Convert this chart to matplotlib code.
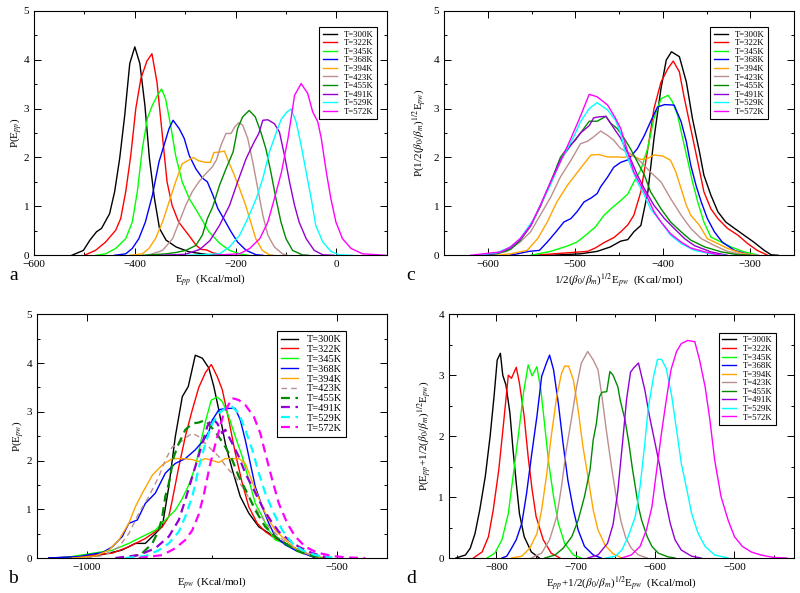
import matplotlib
matplotlib.use('Agg')
from matplotlib import pyplot as plt
from matplotlib.ticker import MultipleLocator

plt.rcParams['font.family'] = ['Liberation Serif', 'DejaVu Serif']
plt.rcParams['mathtext.fontset'] = 'stix'

temps = ['300', '322', '345', '368', '394', '423', '455', '491', '529', '572']
colors = ['#000000', '#ff0000', '#00ff00', '#0000ff', '#ffa500',
          '#bc8f8f', '#008b00', '#9400d3', '#00ffff', '#ff00ff']

# ---- panel a: E_pp ----
a300_x = [-525, -502, -489, -476, -466, -450, -440, -430, -420, -410, -400, -390, -380, -371, -361, -351, -338, -318, -292, -252, -220]
a300_y = [0, 0.1, 0.31, 0.48, 0.55, 0.85, 1.3, 1.98, 2.86, 3.92, 4.26, 3.92, 3.07, 1.98, 1.16, 0.55, 0.31, 0.17, 0.07, 0.01, 0]
a322_x = [-500, -478, -458, -438, -428, -418, -408, -398, -388, -376, -366, -356, -346, -336, -326, -313, -293, -278, -268, -258, -245, -220]
a322_y = [0, 0.1, 0.27, 0.51, 0.75, 1.3, 2.04, 3.0, 3.61, 3.97, 4.12, 3.54, 2.52, 1.5, 1.02, 0.68, 0.41, 0.2, 0.12, 0.11, 0.05, 0]
a345_x = [-477, -458, -438, -418, -405, -395, -385, -375, -365, -355, -347, -339, -329, -319, -306, -292, -272, -253, -232, -212, -192, -175]
a345_y = [0, 0.03, 0.14, 0.34, 0.68, 1.3, 2.18, 2.8, 3.07, 3.27, 3.4, 3.2, 2.66, 2.04, 1.5, 1.16, 0.82, 0.48, 0.25, 0.1, 0.03, 0]
a368_x = [-440, -418, -405, -392, -379, -365, -352, -342, -332, -324, -312, -302, -292, -279, -266, -256, -245, -235, -222, -209, -196, -179, -159, -146]
a368_y = [0, 0.03, 0.14, 0.34, 0.68, 1.23, 1.91, 2.25, 2.59, 2.76, 2.59, 2.39, 2.04, 1.77, 1.58, 1.5, 1.23, 0.95, 0.72, 0.48, 0.27, 0.1, 0.01, 0]
a394_x = [-410, -385, -372, -359, -345, -332, -319, -306, -294, -284, -273, -260, -250, -243, -232, -222, -214, -205, -192, -180, -170, -160, -147, -133, -125]
a394_y = [0, 0.03, 0.14, 0.34, 0.68, 1.09, 1.5, 1.87, 1.94, 2.0, 1.93, 1.9, 1.9, 2.1, 2.11, 2.13, 1.91, 1.7, 1.36, 1.02, 0.68, 0.34, 0.1, 0.01, 0]
a423_x = [-375, -350, -345, -325, -312, -299, -286, -273, -259, -246, -238, -229, -219, -209, -202, -194, -186, -176, -166, -156, -146, -136, -123, -107, -97]
a423_y = [0, 0.08, 0.1, 0.34, 0.68, 1.02, 1.3, 1.5, 1.67, 1.81, 1.95, 2.25, 2.49, 2.49, 2.62, 2.71, 2.66, 2.39, 1.91, 1.36, 0.82, 0.41, 0.17, 0.03, 0]
a455_x = [-384, -337, -317, -299, -279, -266, -256, -245, -232, -219, -205, -196, -186, -173, -161, -150, -140, -130, -120, -110, -100, -87, -68, -55]
a455_y = [0, 0.03, 0.06, 0.1, 0.2, 0.41, 0.75, 1.0, 1.43, 1.77, 2.11, 2.59, 2.83, 2.96, 2.83, 2.52, 2.18, 1.7, 1.16, 0.68, 0.34, 0.1, 0.01, 0]
a491_x = [-350, -300, -271, -251, -232, -212, -196, -179, -163, -154, -146, -136, -123, -113, -103, -93, -83, -74, -60, -44, -27, -5]
a491_y = [0, 0.02, 0.12, 0.3, 0.61, 1.02, 1.5, 1.98, 2.32, 2.49, 2.76, 2.77, 2.69, 2.52, 2.04, 1.5, 1.02, 0.68, 0.34, 0.1, 0.01, 0]
a529_x = [-297, -232, -212, -192, -176, -159, -146, -133, -119, -109, -98, -90, -80, -70, -60, -50, -41, -27, -11, 5, 32]
a529_y = [0, 0.03, 0.17, 0.41, 0.75, 1.16, 1.57, 2.11, 2.52, 2.79, 2.93, 2.99, 2.73, 2.25, 1.7, 1.16, 0.61, 0.27, 0.08, 0.01, 0]
a572_x = [-245, -192, -172, -152, -136, -123, -109, -96, -83, -70, -57, -47, -37, -30, -20, -11, -1, 12, 29, 52, 98]
a572_y = [0, 0.03, 0.14, 0.34, 0.68, 1.16, 1.7, 2.39, 3.27, 3.51, 3.31, 2.93, 2.73, 2.39, 1.7, 1.16, 0.68, 0.34, 0.14, 0.03, 0]

# ---- panel c: 1/2(b0/bm)^1/2 E_pw ----
c300_x = [-528, -494, -475, -460, -448, -440, -433, -425, -417, -410, -402, -396, -390, -381, -373, -366, -358, -353, -345, -337, -328, -318, -307, -296, -284, -276, -268]
c300_y = [0, 0.03, 0.08, 0.17, 0.29, 0.32, 0.48, 0.61, 1.3, 2.39, 3.41, 3.99, 4.16, 4.06, 3.54, 2.79, 2.11, 1.64, 1.23, 0.89, 0.68, 0.55, 0.41, 0.27, 0.1, 0.01, 0]
c322_x = [-547, -509, -486, -477, -467, -456, -448, -440, -433, -425, -417, -410, -402, -394, -388, -381, -376, -368, -360, -353, -345, -337, -326, -314, -303, -292, -280]
c322_y = [0, 0.05, 0.08, 0.15, 0.26, 0.36, 0.48, 0.62, 0.82, 1.3, 2.18, 3.0, 3.54, 3.82, 3.97, 3.75, 3.27, 2.59, 1.91, 1.3, 0.95, 0.75, 0.55, 0.41, 0.24, 0.1, 0]
c345_x = [-551, -528, -509, -498, -486, -477, -467, -458, -448, -440, -433, -425, -417, -410, -402, -394, -389, -383, -378, -372, -366, -360, -353, -345, -333, -322, -307, -292]
c345_y = [0, 0.08, 0.19, 0.27, 0.44, 0.58, 0.82, 0.97, 1.12, 1.25, 1.5, 1.75, 2.2, 2.8, 3.2, 3.27, 3.14, 2.86, 2.45, 1.98, 1.5, 1.09, 0.68, 0.37, 0.27, 0.17, 0.07, 0.01]
c368_x = [-575, -566, -553, -541, -532, -522, -513, -505, -498, -490, -482, -475, -471, -463, -456, -448, -440, -437, -429, -421, -414, -406, -398, -387, -379, -373, -368, -362, -356, -349, -341, -332, -318, -299]
c368_y = [0, 0.03, 0.08, 0.1, 0.27, 0.48, 0.68, 0.75, 0.89, 1.09, 1.17, 1.26, 1.4, 1.6, 1.8, 1.9, 1.95, 2.01, 2.18, 2.45, 2.73, 3.03, 3.08, 3.07, 2.73, 2.32, 1.84, 1.43, 1.09, 0.75, 0.48, 0.27, 0.1, 0]
c394_x = [-590, -574, -555, -543, -532, -521, -509, -500, -490, -482, -473, -463, -452, -444, -437, -425, -417, -410, -400, -391, -385, -379, -373, -368, -358, -349, -337, -326, -311, -296]
c394_y = [0, 0.03, 0.1, 0.34, 0.68, 1.09, 1.43, 1.64, 1.87, 2.05, 2.06, 2.01, 2.01, 2.0, 2.05, 1.96, 1.98, 2.05, 2.03, 1.94, 1.7, 1.36, 1.02, 0.82, 0.61, 0.34, 0.24, 0.14, 0.05, 0]
c423_x = [-600, -578, -563, -551, -540, -528, -517, -505, -494, -486, -479, -471, -463, -456, -448, -437, -425, -414, -402, -391, -379, -368, -356, -341, -326, -307, -290]
c423_y = [0, 0.08, 0.27, 0.48, 0.82, 1.19, 1.6, 1.94, 2.28, 2.33, 2.42, 2.54, 2.45, 2.35, 2.18, 2.08, 1.91, 1.7, 1.5, 1.16, 0.82, 0.55, 0.34, 0.2, 0.08, 0.01, 0]
c455_x = [-610, -590, -574, -563, -551, -540, -528, -517, -509, -500, -494, -484, -475, -465, -459, -452, -444, -437, -429, -421, -414, -402, -391, -379, -368, -352, -333, -314, -300]
c455_y = [0, 0.03, 0.12, 0.3, 0.6, 1.0, 1.5, 2.0, 2.2, 2.35, 2.5, 2.74, 2.74, 2.84, 2.69, 2.59, 2.39, 2.18, 1.91, 1.64, 1.3, 0.95, 0.68, 0.48, 0.31, 0.17, 0.07, 0.01, 0]
c491_x = [-612, -590, -574, -563, -551, -540, -528, -517, -505, -494, -484, -479, -473, -465, -456, -448, -437, -429, -421, -410, -398, -387, -375, -364, -345, -326]
c491_y = [0, 0.04, 0.15, 0.32, 0.6, 1.0, 1.5, 1.95, 2.25, 2.5, 2.65, 2.81, 2.83, 2.84, 2.6, 2.39, 1.98, 1.64, 1.36, 1.02, 0.75, 0.55, 0.34, 0.2, 0.07, 0]
c529_x = [-615, -590, -574, -563, -547, -540, -528, -517, -501, -494, -484, -475, -463, -454, -448, -444, -437, -429, -421, -414, -402, -391, -379, -364, -345, -330]
c529_y = [0, 0.05, 0.17, 0.34, 0.75, 1.02, 1.45, 1.91, 2.45, 2.73, 3.0, 3.12, 2.97, 2.76, 2.49, 2.18, 1.84, 1.5, 1.23, 0.95, 0.68, 0.41, 0.24, 0.1, 0.03, 0]
c572_x = [-620, -585, -574, -563, -551, -540, -528, -517, -505, -496, -484, -475, -463, -454, -448, -440, -433, -425, -417, -410, -402, -391, -379, -368, -352, -333]
c572_y = [0, 0.07, 0.17, 0.34, 0.61, 1.02, 1.5, 1.91, 2.39, 2.76, 3.29, 3.24, 3.07, 2.8, 2.59, 2.11, 1.7, 1.43, 1.16, 0.89, 0.68, 0.44, 0.27, 0.15, 0.07, 0]

# ---- panel b: E_pw ----
b300_x = [-1076, -983, -930, -903, -883, -863, -849, -836, -823, -809, -797, -783, -769, -756, -746, -736, -723, -709, -693, -676, -656, -636, -616, -596, -576, -556, -543]
b300_y = [0, 0.04, 0.16, 0.3, 0.3, 0.5, 0.65, 1.46, 2.49, 3.31, 3.52, 4.16, 4.1, 3.9, 3.52, 3.04, 2.35, 1.81, 1.26, 0.92, 0.64, 0.51, 0.37, 0.27, 0.16, 0.06, 0]
b322_x = [-1049, -949, -916, -883, -849, -836, -829, -816, -803, -789, -776, -763, -751, -739, -729, -716, -703, -689, -676, -659, -643, -623, -603, -583, -563, -543, -523]
b322_y = [0, 0.1, 0.23, 0.4, 0.64, 0.85, 1.19, 1.87, 2.49, 3.04, 3.5, 3.8, 3.97, 3.72, 3.45, 2.83, 2.15, 1.53, 1.05, 0.71, 0.54, 0.4, 0.3, 0.2, 0.1, 0.03, 0]
b345_x = [-1049, -949, -916, -889, -863, -843, -823, -809, -796, -783, -772, -762, -751, -739, -729, -716, -703, -689, -676, -663, -649, -636, -623, -603, -583, -563, -543, -530]
b345_y = [0, 0.16, 0.3, 0.44, 0.57, 0.78, 0.98, 1.22, 1.5, 1.87, 2.38, 2.83, 3.24, 3.3, 3.21, 2.9, 2.49, 2.08, 1.6, 1.12, 0.85, 0.57, 0.37, 0.3, 0.2, 0.1, 0.03, 0]
b368_x = [-1076, -1016, -989, -969, -949, -929, -916, -899, -883, -863, -843, -823, -803, -783, -766, -756, -749, -736, -723, -703, -693, -683, -673, -663, -649, -636, -623, -603, -583, -563, -539]
b368_y = [0, 0.03, 0.08, 0.11, 0.23, 0.44, 0.71, 0.78, 1.12, 1.33, 1.74, 1.94, 2.04, 2.22, 2.42, 2.59, 2.83, 3.04, 3.07, 3.07, 2.83, 2.42, 1.94, 1.46, 1.05, 0.71, 0.44, 0.27, 0.16, 0.08, 0]
b394_x = [-1029, -983, -956, -936, -916, -903, -889, -869, -849, -829, -809, -789, -776, -763, -749, -736, -723, -709, -696, -683, -673, -663, -649, -636, -623, -603, -583, -563, -536]
b394_y = [0, 0.04, 0.16, 0.37, 0.71, 1.05, 1.33, 1.7, 1.91, 2.04, 2.04, 2.02, 1.98, 2.04, 2.0, 1.96, 2.04, 2.04, 2.04, 1.94, 1.67, 1.4, 1.05, 0.78, 0.57, 0.37, 0.2, 0.1, 0]
b423_x = [-1000, -963, -936, -916, -896, -876, -856, -843, -829, -819, -803, -789, -776, -756, -736, -726, -716, -703, -689, -673, -656, -636, -616, -596, -569, -543, -509]
b423_y = [0, 0.06, 0.23, 0.5, 0.92, 1.26, 1.67, 2.01, 2.28, 2.32, 2.46, 2.56, 2.49, 2.28, 2.08, 1.94, 1.81, 1.67, 1.46, 1.19, 0.92, 0.64, 0.44, 0.27, 0.13, 0.04, 0]
b455_x = [-916, -889, -869, -856, -849, -843, -836, -826, -816, -803, -789, -776, -763, -749, -736, -723, -709, -696, -679, -663, -643, -623, -603, -583, -556, -523]
b455_y = [0, 0.1, 0.3, 0.57, 0.85, 1.26, 1.53, 2.08, 2.35, 2.63, 2.76, 2.78, 2.83, 2.66, 2.49, 2.28, 2.01, 1.67, 1.33, 0.98, 0.64, 0.44, 0.3, 0.16, 0.06, 0]
b491_x = [-943, -896, -863, -836, -816, -803, -789, -779, -769, -759, -749, -739, -729, -723, -709, -696, -683, -666, -649, -633, -616, -596, -576, -549, -516]
b491_y = [0, 0.06, 0.2, 0.44, 0.78, 1.19, 1.67, 2.01, 2.35, 2.7, 2.87, 2.76, 2.56, 2.63, 2.35, 2.08, 1.74, 1.4, 1.05, 0.78, 0.54, 0.37, 0.23, 0.1, 0]
b529_x = [-923, -883, -856, -836, -816, -803, -789, -776, -763, -749, -736, -723, -709, -696, -683, -669, -656, -643, -626, -609, -589, -569, -543, -509]
b529_y = [0, 0.04, 0.16, 0.3, 0.54, 0.85, 1.26, 1.85, 2.35, 2.76, 2.97, 3.07, 3.1, 2.97, 2.63, 2.22, 1.74, 1.33, 0.92, 0.57, 0.3, 0.16, 0.06, 0.01]
b572_x = [-896, -849, -823, -803, -789, -776, -766, -753, -739, -726, -709, -696, -683, -666, -653, -643, -629, -616, -599, -583, -563, -539, -509, -476, -443]
b572_y = [0, 0.06, 0.2, 0.37, 0.57, 0.9, 1.3, 1.94, 2.49, 2.97, 3.28, 3.24, 3.14, 2.9, 2.56, 2.15, 1.6, 1.12, 0.71, 0.44, 0.23, 0.11, 0.04, 0.01, 0]

# ---- panel d: E_pp + 1/2(b0/bm)^1/2 E_pw ----
d300_x = [-851, -839, -833, -827, -821, -814, -808, -803, -799, -795, -792, -788, -783, -779, -775, -771, -765, -756, -746]
d300_y = [0, 0.05, 0.16, 0.4, 0.79, 1.34, 1.99, 2.65, 3.25, 3.36, 3.0, 2.84, 2.38, 1.77, 1.23, 0.73, 0.35, 0.1, 0]
d322_x = [-829, -818, -810, -804, -797, -791, -785, -781, -775, -771, -765, -760, -755, -750, -741, -731, -720]
d322_y = [0, 0.1, 0.35, 0.79, 1.45, 2.21, 3.0, 2.95, 3.13, 2.87, 2.32, 1.66, 1.12, 0.68, 0.3, 0.08, 0]
d345_x = [-812, -802, -793, -785, -779, -772, -766, -760, -755, -749, -744, -739, -734, -728, -722, -714, -703, -693]
d345_y = [0, 0.08, 0.3, 0.73, 1.34, 2.05, 2.7, 3.17, 2.99, 3.14, 2.76, 2.16, 1.55, 1.01, 0.57, 0.24, 0.05, 0]
d368_x = [-793, -787, -781, -775, -768, -762, -756, -749, -743, -737, -733, -728, -722, -716, -710, -703, -697, -689, -678, -668]
d368_y = [0, 0.03, 0.16, 0.3, 0.57, 1.06, 1.66, 2.32, 2.98, 3.2, 3.33, 3.09, 2.54, 1.88, 1.28, 0.79, 0.46, 0.19, 0.05, 0]
d394_x = [-781, -768, -758, -749, -743, -737, -731, -724, -718, -714, -709, -703, -697, -691, -684, -678, -672, -663, -653, -642]
d394_y = [0, 0.03, 0.16, 0.4, 0.79, 1.34, 1.99, 2.65, 3.03, 3.15, 3.15, 2.92, 2.43, 1.83, 1.28, 0.79, 0.46, 0.21, 0.07, 0]
d423_x = [-756, -743, -733, -724, -718, -712, -705, -699, -693, -685, -678, -672, -667, -661, -655, -649, -643, -637, -630, -621, -610]
d423_y = [0, 0.08, 0.3, 0.68, 1.17, 1.77, 2.32, 2.81, 3.2, 3.39, 3.25, 3.09, 2.65, 2.05, 1.5, 1.0, 0.6, 0.33, 0.16, 0.05, 0]
d455_x = [-739, -726, -716, -705, -697, -689, -682, -678, -674, -670, -667, -661, -657, -653, -647, -644, -638, -633, -629, -625, -621, -617, -610, -604, -596, -584, -575]
d455_y = [0, 0.05, 0.16, 0.35, 0.62, 1.01, 1.45, 1.94, 2.21, 2.65, 2.72, 2.73, 3.06, 3.0, 2.81, 2.59, 2.27, 1.88, 1.5, 1.17, 0.84, 0.62, 0.35, 0.19, 0.08, 0.02, 0]
d491_x = [-685, -672, -660, -653, -647, -641, -636, -631, -627, -621, -613, -607, -600, -594, -588, -581, -575, -567, -554, -542]
d491_y = [0, 0.05, 0.24, 0.55, 1.1, 1.9, 2.6, 3.05, 3.12, 3.2, 2.76, 2.32, 1.88, 1.5, 1.01, 0.57, 0.3, 0.13, 0.03, 0]
d529_x = [-662, -650, -642, -634, -625, -619, -613, -609, -602, -597, -592, -586, -579, -573, -567, -560, -554, -546, -537, -525, -508]
d529_y = [0, 0.03, 0.13, 0.35, 0.68, 1.17, 1.88, 2.43, 2.98, 3.26, 3.26, 3.11, 2.65, 2.1, 1.55, 1.12, 0.73, 0.41, 0.19, 0.05, 0]
d572_x = [-642, -630, -619, -611, -604, -598, -592, -586, -580, -573, -567, -559, -550, -544, -537, -531, -525, -517, -508, -500, -490, -479, -467, -451, -434]
d572_y = [0, 0.05, 0.19, 0.46, 0.84, 1.45, 2.05, 2.59, 3.09, 3.39, 3.52, 3.57, 3.55, 3.25, 2.81, 2.27, 1.61, 1.01, 0.62, 0.35, 0.19, 0.1, 0.05, 0.01, 0]

curves_a = [(a300_x, a300_y), (a322_x, a322_y), (a345_x, a345_y), (a368_x, a368_y), (a394_x, a394_y),
            (a423_x, a423_y), (a455_x, a455_y), (a491_x, a491_y), (a529_x, a529_y), (a572_x, a572_y)]
curves_b = [(b300_x, b300_y), (b322_x, b322_y), (b345_x, b345_y), (b368_x, b368_y), (b394_x, b394_y),
            (b423_x, b423_y), (b455_x, b455_y), (b491_x, b491_y), (b529_x, b529_y), (b572_x, b572_y)]
curves_c = [(c300_x, c300_y), (c322_x, c322_y), (c345_x, c345_y), (c368_x, c368_y), (c394_x, c394_y),
            (c423_x, c423_y), (c455_x, c455_y), (c491_x, c491_y), (c529_x, c529_y), (c572_x, c572_y)]
curves_d = [(d300_x, d300_y), (d322_x, d322_y), (d345_x, d345_y), (d368_x, d368_y), (d394_x, d394_y),
            (d423_x, d423_y), (d455_x, d455_y), (d491_x, d491_y), (d529_x, d529_y), (d572_x, d572_y)]


def setup(ax, xlim, xmaj, xmin, ymax, xlabel, ylabel, ypad):
    ax.set_xlim(*xlim)
    ax.set_ylim(0, ymax)
    ax.xaxis.set_major_locator(MultipleLocator(xmaj))
    ax.xaxis.set_minor_locator(MultipleLocator(xmin))
    ax.yaxis.set_major_locator(MultipleLocator(1))
    ax.yaxis.set_minor_locator(MultipleLocator(0.5))
    ax.tick_params(which='both', direction='in', top=True, right=True, labelsize=8, width=0.7)
    ax.tick_params(which='major', length=5)
    ax.tick_params(which='minor', length=2.5)
    for s in ax.spines.values():
        s.set_linewidth(0.8)
    ax.set_xlabel(xlabel, fontsize=8, labelpad=2)
    ax.set_ylabel(ylabel, fontsize=8, labelpad=ypad)


def add_legend(ax, anchor, fs, hl):
    leg = ax.legend(loc='upper right', bbox_to_anchor=anchor, fontsize=fs, frameon=True,
                    fancybox=False, edgecolor='black', framealpha=1, handlelength=hl,
                    handletextpad=0.8, labelspacing=0.05, borderpad=0.4, borderaxespad=0)
    leg.get_frame().set_linewidth(0.8)


fig = plt.figure(figsize=(8, 5.93), dpi=100)
ax_a = fig.add_axes([0.0425, 0.5695, 0.441, 0.4125])
ax_c = fig.add_axes([0.555, 0.5695, 0.4375, 0.4125])
ax_b = fig.add_axes([0.046, 0.059, 0.4375, 0.411])
ax_d = fig.add_axes([0.561, 0.059, 0.4315, 0.411])

labels = ['T=%sK' % t for t in temps]

for (x, y), col, lab in zip(curves_a, colors, labels):
    ax_a.plot(x, y, color=col, lw=1.0, label=lab)
for (x, y), col, lab in zip(curves_c, colors, labels):
    ax_c.plot(x, y, color=col, lw=1.0, label=lab)
for (x, y), col, lab in zip(curves_d, colors, labels):
    ax_d.plot(x, y, color=col, lw=1.0, label=lab)
for i, ((x, y), col, lab) in enumerate(zip(curves_b, colors, labels)):
    if i < 5:
        ax_b.plot(x, y, color=col, lw=1.0, label=lab)
    elif i == 5:
        ax_b.plot(x, y, color=col, lw=1.0, dashes=(4, 3), label=lab)
    else:
        ax_b.plot(x, y, color=col, lw=1.6, dashes=(4, 2.5), label=lab)

setup(ax_a, (-600, 100), 200, 100, 5, r'E$_{pp}$  (Kcal/mol)', r'P(E$_{pp}$)', 0)
setup(ax_c, (-650, -250), 100, 50, 5, r'1/2($\beta_0$/$\beta_m$)$^{1/2}$E$_{pw}$  (Kcal/mol)',
      r'P(1/2($\beta_0$/$\beta_m$)$^{1/2}$E$_{pw}$)', 3)
setup(ax_b, (-1100, -400), 500, 250, 5, r'E$_{pw}$ (Kcal/mol)', r'P(E$_{pw}$)', 0)
setup(ax_d, (-860, -425), 100, 50, 4, r'E$_{pp}$+1/2($\beta_0$/$\beta_m$)$^{1/2}$E$_{pw}$  (Kcal/mol)',
      r'P(E$_{pp}$+1/2($\beta_0$/$\beta_m$)$^{1/2}$E$_{pw}$)', 3)

add_legend(ax_a, (0.972, 0.933), 6.3, 1.6)
add_legend(ax_c, (0.926, 0.933), 6.3, 1.6)
add_legend(ax_b, (0.883, 0.932), 7.5, 1.6)
add_legend(ax_d, (0.949, 0.924), 6.3, 1.6)

fig.text(0.012, 0.528, 'a', fontsize=14)
fig.text(0.508, 0.528, 'c', fontsize=14)
fig.text(0.010, 0.017, 'b', fontsize=14)
fig.text(0.508, 0.017, 'd', fontsize=14)

fig.savefig('out.png', dpi=100)
